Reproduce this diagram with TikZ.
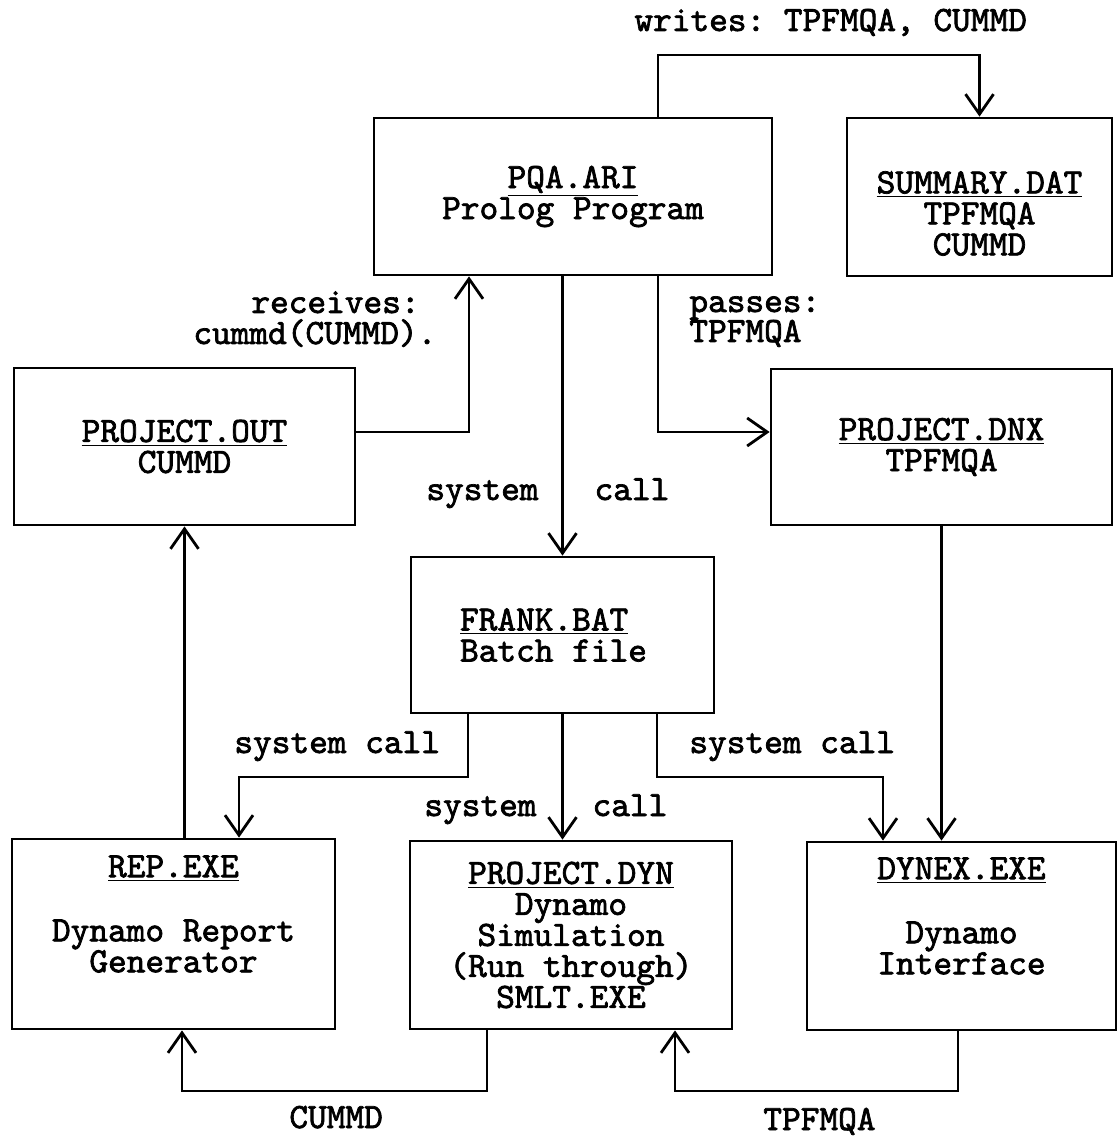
\documentclass[tikz,border=0pt]{standalone}
\usepackage{fontspec}
\usetikzlibrary{arrows.meta}
\newfontfamily\scanfont{lmmono10-regular.otf}[FakeBold=2]
\newcommand{\boxfont}{\scanfont\frenchspacing\fontsize{17.8}{15.5}\selectfont}

\begin{document}
\begin{tikzpicture}[x=0.5pt,y=-0.5pt,line width=1.4pt,
    >={Straight Barb[length=10pt,width=14pt]},
    box/.style={draw,inner sep=0pt,align=center,font=\boxfont},
    lbl/.style={anchor=base west,inner sep=0pt,font=\boxfont}]

  \useasboundingbox (0,0) rectangle (1119,1138);

  % files and programs
  \node[box,minimum width=199pt,minimum height=78.5pt] (pqa) at (573,196.5)
    {\underline{PQA.ARI}\\Prolog Program};
  \node[box,minimum width=132.5pt,minimum height=79pt] (summ) at (979.5,197)
    {\strut\\\underline{SUMMARY.DAT}\\TPFMQA\\CUMMD};
  \node[box,minimum width=170.5pt,minimum height=78.5pt] (out) at (184.5,446.5)
    {\underline{PROJECT.OUT}\\CUMMD};
  \node[box,minimum width=170.5pt,minimum height=78pt] (dnx) at (941.5,447)
    {\underline{PROJECT.DNX}\\TPFMQA};
  \node[box,align=left,minimum width=151.5pt,minimum height=78pt] (frank) at (562.5,635)
    {\underline{FRANK.BAT}\\Batch file\hspace*{9pt}};
  \node[box,minimum width=161.5pt,minimum height=95pt] (rep) at (173.5,934)
    {\underline{REP.EXE}\\\strut\\Dynamo Report\\Generator\\\strut};
  \node[box,minimum width=161pt,minimum height=94pt] (dyn) at (571,935)
    {\underline{PROJECT.DYN}\\Dynamo\\Simulation\\(Run through)\\SMLT.EXE};
  \node[box,minimum width=154.5pt,minimum height=94pt] (dynex) at (961.5,936)
    {\underline{DYNEX.EXE}\\\strut\\Dynamo\\Interface\\\strut};

  % labels on the connectors
  \node[lbl] (wlab) at (633,31) {writes: TPFMQA, CUMMD};
  \node[lbl] (rlab) at (250,313) {receives:};
  \node[lbl] (rlabb) at (192,344) {cummd(CUMMD).};
  \node[lbl] (plab) at (688,312) {passes:};
  \node[lbl] (plabb) at (688,342) {TPFMQA};
  \node[lbl] (slab) at (425,500) {system\ \ \ call};
  \node[lbl] (slabl) at (233,753) {system call};
  \node[lbl] (slabr) at (688,753) {system call};
  \node[lbl] (slabm) at (423,816) {system\ \ \ call};
  \node[lbl] (clab) at (288,1128) {CUMMD};
  \node[lbl] (tlab) at (762,1130) {TPFMQA};

  % bends
  \coordinate (wtop) at (658,55);
  \coordinate (rbend) at (469,432);
  \coordinate (pbend) at (658,432);
  \coordinate (lbend) at (468,777);
  \coordinate (lturn) at (239,777);
  \coordinate (sbend) at (657,777);
  \coordinate (sturn) at (883,777);
  \coordinate (cbend) at (487,1091);
  \coordinate (cturn) at (182,1091);
  \coordinate (tbend) at (958,1091);
  \coordinate (tturn) at (675,1091);

  \draw[->] (pqa.north -| wtop) -- (wtop) -| (summ.north);
  \draw[->] (out.east |- rbend) -- (rbend) -- (pqa.south -| rbend);
  \draw[->] (pqa.south -| pbend) -- (pbend) -- (dnx.west |- pbend);
  \draw[->] (pqa.south -| frank.north) -- (frank.north);
  \draw[->] (frank.south -| lbend) -- (lbend) -- (lturn) -- (rep.north -| lturn);
  \draw[->] (frank.south) -- (dyn.north -| frank.south);
  \draw[->] (frank.south -| sbend) -- (sbend) -- (sturn) -- (dynex.north -| sturn);
  \draw[->] (dnx.south) -- (dynex.north -| dnx.south);
  \draw[->] (rep.north -| out.south) -- (out.south);
  \draw[->] (dyn.south -| cbend) -- (cbend) -- (cturn) -- (rep.south -| cturn);
  \draw[->] (dynex.south -| tbend) -- (tbend) -- (tturn) -- (dyn.south -| tturn);
\end{tikzpicture}
\end{document}
